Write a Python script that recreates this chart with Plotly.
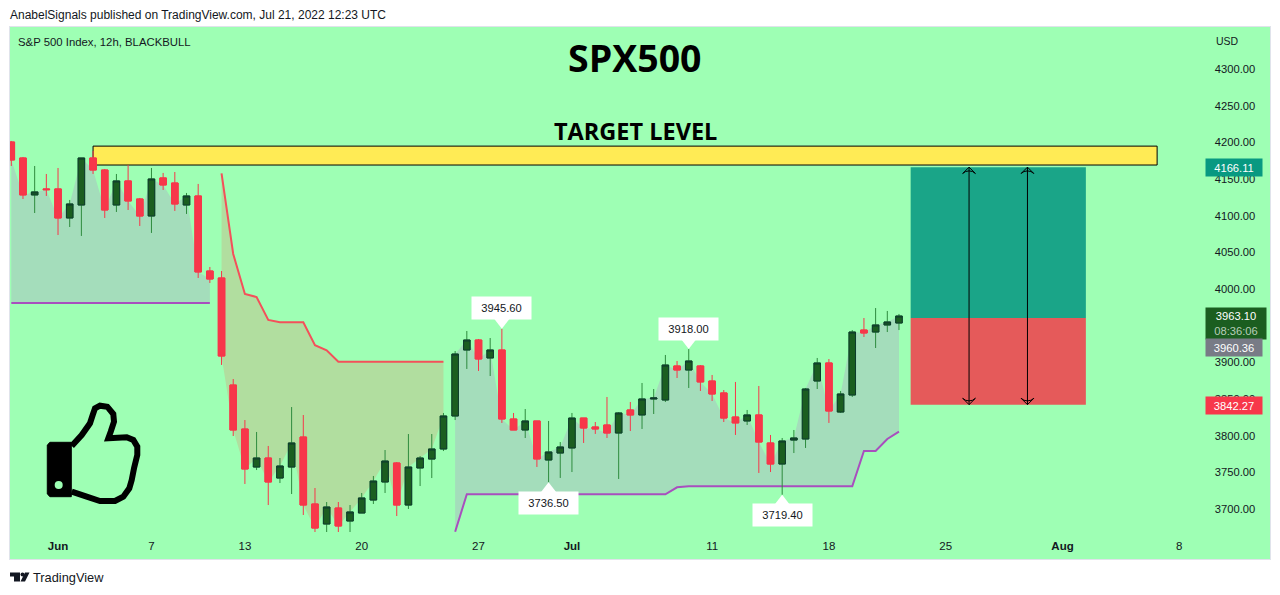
import plotly.graph_objects as go

# ---- data ----
bar_open = [4200.4,4178.6,4128.2,4136.4,4136.4,4096.8,4114.5,4178.6,4162.2,4114.5,
            4147.3,4122.7,4099.5,4151.4,4144.5,4114.5,4126.8,4024.5,4015.0,3869.0,
            3809.0,3757.2,3769.5,3742.2,3757.2,3798.1,3706.8,3679.5,3701.3,3683.6,
            3694.5,3712.2,3736.8,3762.7,3705.4,3755.9,3768.1,3781.8,3826.8,3916.8,
            3930.4,3905.9,3916.8,3822.7,3807.7,3820.0,3766.8,3776.3,3783.2,3824.0,
            3811.8,3814.5,3803.6,3835.0,3828.2,3850.0,3848.6,3895.0,3889.5,3895.0,
            3874.5,3858.2,3825.4,3820.0,3828.2,3790.0,3761.3,3794.0,3795.4,3874.5,
            3899.1,3832.2,3855.4,3944.0,3941.3,3950.9,3953.6]
bar_high = [4201.8,4180.0,4167.7,4156.8,4165.0,4121.4,4178.6,4188.2,4163.6,4156.8,
            4169.1,4124.1,4165.0,4158.2,4159.5,4130.9,4143.2,4030.0,4024.5,3877.2,
            3821.3,3805.0,3785.9,3769.5,3839.0,3828.1,3728.6,3709.5,3709.5,3705.4,
            3721.8,3745.0,3780.4,3764.0,3802.2,3772.2,3802.2,3830.9,3915.4,3942.7,
            3931.8,3933.1,3945.6,3830.9,3836.3,3820.0,3820.0,3791.3,3830.9,3824.0,
            3818.6,3852.7,3832.2,3845.9,3871.8,3863.6,3910.0,3901.8,3918.0,3896.3,
            3882.7,3862.2,3873.2,3835.0,3867.7,3800.9,3796.8,3807.7,3865.0,3905.9,
            3904.5,3860.9,3944.0,3960.4,3974.0,3970.0,3965.9]
bar_low = [4167.7,4122.7,4103.6,4126.8,4073.6,4084.5,4072.3,4156.8,4096.8,4105.0,
           4107.7,4085.9,4076.4,4135.0,4106.4,4102.3,4015.0,4008.2,3896.4,3799.5,
           3734.1,3753.1,3705.4,3735.4,3720.4,3691.8,3668.6,3668.6,3668.6,3668.6,
           3694.5,3706.8,3721.8,3690.4,3700.0,3731.3,3742.2,3779.0,3821.3,3890.9,
           3888.2,3881.3,3817.3,3807.7,3796.8,3757.3,3736.5,3742.3,3750.4,3790.0,
           3802.3,3796.8,3740.9,3806.3,3809.1,3829.5,3845.9,3878.6,3865.0,3860.9,
           3847.3,3818.6,3800.9,3814.5,3749.1,3750.4,3719.4,3776.3,3783.2,3863.6,
           3817.3,3830.9,3852.7,3934.5,3919.5,3941.3,3944.0]
bar_close = [4175.9,4128.2,4132.3,4135.4,4096.8,4115.9,4178.6,4162.2,4107.7,4147.3,
             4120.0,4099.5,4150.0,4141.8,4115.9,4126.8,4023.2,4013.6,3908.6,3807.7,
             3754.5,3769.5,3736.8,3758.6,3790.0,3705.4,3674.0,3702.7,3676.8,3695.9,
             3715.0,3738.1,3765.4,3705.4,3757.2,3769.5,3781.8,3826.8,3911.3,3930.4,
             3904.5,3916.8,3822.7,3807.7,3820.0,3768.2,3777.7,3784.5,3824.0,3810.4,
             3809.1,3803.6,3830.9,3828.2,3850.0,3851.3,3896.3,3889.5,3901.8,3873.2,
             3856.8,3824.0,3817.3,3828.2,3791.3,3761.3,3792.7,3796.8,3863.6,3899.1,
             3833.6,3856.8,3941.3,3940.0,3950.9,3955.0,3963.1]

trend_up_a = [3980.9]*18
trend_down = [4157.7,4047.7,3993.1,3989.0,3957.7,3954.5,3954.5,3954.5,3923.2,3916.4,
              3900.9,3900.9,3900.9,3900.9,3900.9,3900.9,3900.9,3900.9,3900.9,3900.9]
trend_up_b = [3669.0,3720.0,3720.0,3720.0,3720.0,3720.0,3720.0,3720.0,3720.0,3720.0,
              3720.0,3720.0,3720.0,3720.0,3720.0,3720.0,3720.0,3720.0,3720.0,3729.6,
              3731.0,3731.0,3731.0,3731.0,3731.0,3731.0,3731.0,3731.0,3731.0,3731.0,
              3731.0,3731.0,3731.0,3731.0,3731.0,3779.0,3779.0,3795.4,3805.4]

price_ticks = [4300,4250,4200,4150,4100,4050,4000,3950,3900,3850,3800,3750,3700]
time_ticks = [4,12,20,30,40,48,60,70,80,90,100]
time_labels = ["<b>Jun</b>","7","13","20","27","<b>Jul</b>","11","18","25","<b>Aug</b>","8"]

target_price = 4166.11
entry_price = 3960.36
stop_price = 3842.27
last_price = 3963.10
level_low, level_high = 4169.0, 4194.8
pos_start, pos_end = 77, 92
arrow_bars = [82, 87]
level_start, level_end = 7, 98.1

callout_high = [(42, 3945.60), (58, 3918.00)]
callout_low = [(46, 3736.50), (66, 3719.40)]

BG = "#9EFFB4"
UP, UP_WICK, UP_EDGE = "#1B5E20", "#2E8B3E", "#0E3B2E"
DOWN = "#F7374A"
FONT = "Liberation Sans"

L, R, T, B = 10, 1270, 27, 559
def px(x): return (x - L) / (R - L)
def py(y): return (B - y) / (B - T)

fig = go.Figure()
n = len(bar_close)
idx = list(range(n))

# shaded bands sit on the base axes; candles go on an overlaid pair so they draw on top
def band(xs, top, line, fillcol, linecol):
    fig.add_trace(go.Scatter(x=xs, y=top, mode="lines", line=dict(width=0), hoverinfo="skip"))
    fig.add_trace(go.Scatter(x=xs, y=line, mode="lines", fill="tonexty", fillcolor=fillcol,
                             line=dict(color=linecol, width=2), hoverinfo="skip"))

band(idx[:18], bar_close[:18], trend_up_a, "#A4DDBB", "#A84FBE")
band(idx[18:38], bar_close[18:38], trend_down, "#B1DE9F", "#F4505A")
band(idx[38:], bar_close[38:], trend_up_b, "#A4DDBB", "#A84FBE")

# wicks
fig.add_trace(go.Candlestick(x=idx, open=bar_open, high=bar_high, low=bar_low, close=bar_close,
    xaxis="x2", yaxis="y2",
    increasing=dict(line=dict(color=UP_WICK, width=1), fillcolor=UP_WICK),
    decreasing=dict(line=dict(color=DOWN, width=1), fillcolor=DOWN),
    whiskerwidth=0, hoverinfo="skip"))
# bodies
body_top = [max(o, c) for o, c in zip(bar_open, bar_close)]
body_bot = [min(o, c) for o, c in zip(bar_open, bar_close)]
fig.add_trace(go.Candlestick(x=idx, open=bar_open, high=body_top, low=body_bot, close=bar_close,
    xaxis="x2", yaxis="y2",
    increasing=dict(line=dict(color=UP_EDGE, width=1), fillcolor=UP),
    decreasing=dict(line=dict(color=DOWN, width=1), fillcolor=DOWN),
    whiskerwidth=0))

# position arrows
for b in arrow_bars:
    fig.add_trace(go.Scatter(x=[b, b], y=[target_price, stop_price], mode="lines+markers",
        xaxis="x2", yaxis="y2", line=dict(color="#000000", width=1),
        marker=dict(symbol="arrow-wide-open", size=9, angle=[0, 180], color="#000000",
                    line=dict(color="#000000", width=1)), hoverinfo="skip"))

# callout pointers
fig.add_trace(go.Scatter(x=[c[0] for c in callout_high], y=[c[1] + 8.9 for c in callout_high],
    xaxis="x2", yaxis="y2",
    mode="markers", marker=dict(symbol="triangle-down", size=13, color="#FFFFFF"), hoverinfo="skip"))
fig.add_trace(go.Scatter(x=[c[0] for c in callout_low], y=[c[1] - 8.9 for c in callout_low],
    xaxis="x2", yaxis="y2",
    mode="markers", marker=dict(symbol="triangle-up", size=13, color="#FFFFFF"), hoverinfo="skip"))

shapes = [
    dict(type="rect", xref="x", yref="y", x0=pos_start, x1=pos_end, y0=entry_price, y1=target_price,
         fillcolor="#1AA588", line_width=0, layer="below"),
    dict(type="rect", xref="x", yref="y", x0=pos_start, x1=pos_end, y0=stop_price, y1=entry_price,
         fillcolor="#E55A5A", line_width=0, layer="below"),
    dict(type="rect", xref="x", yref="y", x0=level_start, x1=level_end, y0=level_low, y1=level_high,
         fillcolor="#FFEB55", line=dict(color="#000000", width=1), layer="below"),
]

def path(points, close=False):
    s = "M " + " L ".join(f"{px(x):.5f} {py(y):.5f}" for x, y in points)
    return s + (" Z" if close else "")

# thumbs-up icon
thumb = [(71.7,446),(81.7,435),(90,423.3),(92.7,415),(95,408.3),(100,405.7),(107.3,406.7),(113.3,414),
         (114,421.7),(110.7,431.7),(108.3,438.3),(126.7,437.3),(133.3,440),(137.3,446.7),(137.3,455),
         (134,468.3),(131.7,480),(129.3,488.3),(123.3,496.7),(115,501),(100,501),(86.7,496.7),(71.7,491.7)]
shapes.append(dict(type="path", xref="paper", yref="paper", path=path(thumb),
                   line=dict(color="#000000", width=6), fillcolor="rgba(0,0,0,0)"))
cuff = [(50,442.3),(71.3,442.3),(71.3,496.7),(50,496.7),(47.3,494),(47.3,445)]
shapes.append(dict(type="path", xref="paper", yref="paper", path=path(cuff, True),
                   line=dict(color="#000000", width=1), fillcolor="#000000"))
shapes.append(dict(type="circle", xref="paper", yref="paper",
                   x0=px(54.7), x1=px(62.7), y0=py(489), y1=py(481), fillcolor=BG, line_width=0))
# TradingView logo
shapes.append(dict(type="path", xref="paper", yref="paper",
                   path=path([(10,572.5),(20,572.5),(20,581.5),(14,581.5),(14,576.5),(10,576.5)], True),
                   fillcolor="#131722", line_width=0))
shapes.append(dict(type="path", xref="paper", yref="paper",
                   path=path([(25,572.5),(29.5,572.5),(25,581.5),(20.5,581.5)], True),
                   fillcolor="#131722", line_width=0))
shapes.append(dict(type="circle", xref="paper", yref="paper",
                   x0=px(20.5), x1=px(24.5), y0=py(576.5), y1=py(572.5), fillcolor="#131722", line_width=0))

ann = []
def text(x, y, s, size=12, anchor="left", color="#131722", fam=FONT):
    ann.append(dict(xref="paper", yref="paper", x=px(x), y=py(y), text=s, showarrow=False,
                    xanchor=anchor, yanchor="middle", font=dict(family=fam, size=size, color=color)))

text(8, 15, "AnabelSignals published on TradingView.com, Jul 21, 2022 12:23 UTC", 12)
text(16, 42, "S&amp;P 500 Index, 12h, BLACKBULL", 11.35)
text(1214, 41, "USD", 10.5)
text(31, 577, "TradingView", 12.8)
text(635, 57.5, "<b>SPX500</b>", 37.5, "center", "#000000", "Open Sans")
text(635, 131, "<b>TARGET LEVEL</b>", 23.5, "center", "#000000", "Open Sans")

def price_tag(price, s, bg, w=56, h=17, cx=1233.8, shift=0):
    ann.append(dict(xref="paper", yref="y", x=px(cx), y=price, yshift=shift, text=s, showarrow=False,
                    xanchor="center", yanchor="middle", width=w, height=h, bgcolor=bg,
                    borderpad=0, font=dict(family=FONT, size=11.2, color="#FFFFFF")))

price_tag(target_price, f"{target_price:.2f}", "#089981")
price_tag(stop_price, f"{stop_price:.2f}", DOWN, shift=-1)
price_tag(last_price, f"{last_price:.2f}<br><span style='color:#B7CDB9'>08:36:06</span>", UP, w=60, h=31, cx=1235.8, shift=-7.5)
price_tag(entry_price, f"{entry_price:.2f}", "#787B86", shift=-29.5)

for b, p in callout_high:
    ann.append(dict(x=b, y=p, xref="x", yref="y", yanchor="bottom", yshift=8.5, text=f"{p:.2f}",
                    showarrow=False, width=59, height=22, bgcolor="#FFFFFF", borderpad=0,
                    font=dict(family=FONT, size=11.2, color="#131722")))
for b, p in callout_low:
    ann.append(dict(x=b, y=p, xref="x", yref="y", yanchor="top", yshift=-8.5, text=f"{p:.2f}",
                    showarrow=False, width=59, height=22, bgcolor="#FFFFFF", borderpad=0,
                    font=dict(family=FONT, size=11.2, color="#131722")))

x0 = (L - 11.3) / 11.68
x1 = (R - 11.3) / 11.68
y_top = 4200 + (142.3 - T) * 1.3636
y_bot = 4200 - (B - 142.3) * 1.3636

fig.update_layout(
    width=1280, height=595, showlegend=False, paper_bgcolor="#FFFFFF", plot_bgcolor=BG,
    margin=dict(l=L, r=1280 - R, t=T, b=595 - B), boxgap=0.2, shapes=shapes, annotations=ann,
    font=dict(family=FONT, size=11, color="#131722"),
    xaxis=dict(range=[x0, x1], tickvals=time_ticks, ticktext=time_labels, showgrid=False, zeroline=False,
               ticklabelposition="inside", ticks="inside", ticklen=6,
               tickcolor="rgba(0,0,0,0)", showline=True, mirror=True, linecolor="#E0E3EB", linewidth=1,
               tickfont=dict(family=FONT, size=11.5, color="#131722")),
    yaxis=dict(range=[y_bot, y_top], side="right", tickvals=price_ticks, tickformat=".2f", showgrid=False,
               zeroline=False, ticklabelposition="inside", ticks="inside", ticklen=14,
               tickcolor="rgba(0,0,0,0)", showline=True, mirror=True, linecolor="#E0E3EB", linewidth=1,
               tickfont=dict(family=FONT, size=11.2, color="#131722")),
    xaxis2=dict(overlaying="x", range=[x0, x1], visible=False, rangeslider=dict(visible=False)),
    yaxis2=dict(overlaying="y", range=[y_bot, y_top], visible=False, side="right"),
)
fig.write_html("out.html", config={"displayModeBar": False}, post_script="document.body.style.margin='0';")
